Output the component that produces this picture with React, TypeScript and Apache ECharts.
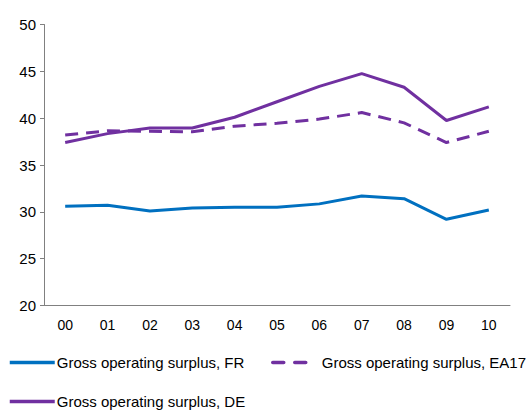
import React, { useEffect, useRef } from "react";
import * as echarts from "echarts";

const years = ["00", "01", "02", "03", "04", "05", "06", "07", "08", "09", "10"];
const frValues = [30.6, 30.7, 30.1, 30.4, 30.5, 30.5, 30.85, 31.7, 31.4, 29.2, 30.2];
const ea17Values = [38.2, 38.65, 38.6, 38.55, 39.15, 39.45, 39.9, 40.6, 39.5, 37.4, 38.6];
const deValues = [37.4, 38.35, 38.95, 38.95, 40.1, 41.75, 43.4, 44.75, 43.3, 39.75, 41.2];
const yTicks = { min: 20, max: 50, interval: 5 };

const nameFR = "Gross operating surplus, FR";
const nameEA = "Gross operating surplus, EA17";
const nameDE = "Gross operating surplus, DE";

const BLUE = "#0070C0";
const PURPLE = "#7030A0";
const FONT = "'Liberation Sans', Arial, sans-serif";

export default function App() {
  const ref = useRef<HTMLDivElement>(null);
  useEffect(() => {
    if (!ref.current) return;
    const chart = echarts.init(ref.current, undefined, { renderer: "svg" });
    const legendBase = {
      orient: "horizontal",
      itemWidth: 45,
      itemHeight: 16,
      itemGap: 0,
      itemStyle: { opacity: 0 },
      lineStyle: { width: 3.5 },
      textStyle: { fontFamily: FONT, fontSize: 15, color: "#000", padding: [0, 0, 0, -3] },
      padding: 0,
      selectedMode: false,
    };
    chart.setOption({
      animation: false,
      textStyle: { fontFamily: FONT },
      grid: { left: 44, right: 16, top: 24.5, bottom: 104.5, containLabel: false },
      xAxis: {
        type: "category",
        data: years,
        boundaryGap: true,
        axisLine: { lineStyle: { color: "#808080", width: 1 } },
        axisTick: { show: false },
        axisLabel: { color: "#000", fontSize: 14, fontFamily: FONT, margin: 12 },
      },
      yAxis: {
        type: "value",
        min: yTicks.min,
        max: yTicks.max,
        interval: yTicks.interval,
        splitLine: { show: false },
        axisLine: { show: true, lineStyle: { color: "#808080", width: 1 } },
        axisTick: { show: true, length: 4, lineStyle: { color: "#808080" } },
        axisLabel: { color: "#000", fontSize: 15, fontFamily: FONT, margin: 8 },
      },
      legend: [
        { ...legendBase, data: [nameFR], left: 8, top: 355 },
        {
          ...legendBase,
          data: [nameEA],
          left: 271,
          top: 355,
          itemWidth: 36,
          lineStyle: { type: [11, 11], cap: "round", width: 3.5 },
          textStyle: { ...legendBase.textStyle, padding: [0, 0, 0, 8] },
        },
        { ...legendBase, data: [nameDE], left: 8, top: 394 },
      ],
      series: [
        {
          name: nameFR,
          type: "line",
          data: frValues,
          symbol: "none",
          lineStyle: { color: BLUE, width: 3 },
          itemStyle: { color: BLUE },
        },
        {
          name: nameEA,
          type: "line",
          data: ea17Values,
          symbol: "none",
          lineStyle: { color: PURPLE, width: 3, type: [13, 8] },
          itemStyle: { color: PURPLE },
        },
        {
          name: nameDE,
          type: "line",
          data: deValues,
          symbol: "none",
          lineStyle: { color: PURPLE, width: 3 },
          itemStyle: { color: PURPLE },
        },
      ],
    });
    return () => chart.dispose();
  }, []);
  return <div ref={ref} style={{ width: 526, height: 410, position: "absolute", left: 0, top: 0 }} />;
}
